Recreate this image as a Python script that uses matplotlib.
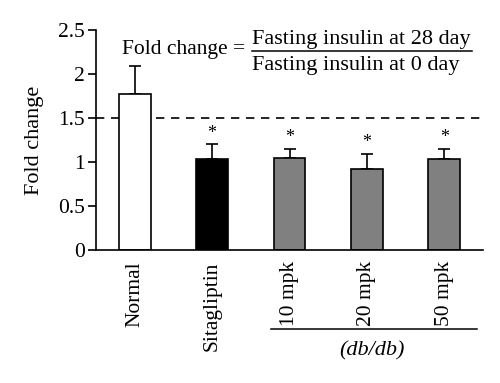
from matplotlib import pyplot as plt
import numpy as np

# values
groups = ['Normal', 'Sitagliptin', '10 mpk', '20 mpk', '50 mpk']
means = [1.77, 1.03, 1.045, 0.92, 1.03]
errors = [0.32, 0.17, 0.105, 0.17, 0.12]
colours = ['white', 'black', '#808080', '#808080', '#808080']
significant = [False, True, True, True, True]

plt.rcParams['font.family'] = ['Liberation Serif', 'DejaVu Serif']

fig = plt.figure(figsize=(5, 3.83), dpi=100)
ax = fig.add_axes([0.192, 0.347, 0.774, 0.575])

x = np.arange(len(groups))
ax.bar(x, means, width=0.41, color=colours, edgecolor='black', linewidth=1.2, zorder=2)
ax.errorbar(x, means, yerr=[np.zeros(len(x)), errors], fmt='none', ecolor='black',
            elinewidth=1.2, capsize=4, capthick=1.2, zorder=1)
for xi, m, e, s in zip(x, means, errors, significant):
	if s:
		ax.text(xi, m + e + 0.03, '*', ha='center', va='bottom', fontsize=13)

ax.axhline(1.5, color='black', linestyle=(0, (5, 4)), linewidth=1.2, zorder=0)

ax.set_xlim(-0.5, 4.5)
ax.set_ylim(0, 2.5)
ax.set_yticks([0, 0.5, 1, 1.5, 2, 2.5])
ax.set_yticklabels(['0', '0.5', '1', '1.5', '2', '2.5'], fontsize=15.5)
ax.set_xticks(x)
ax.set_xticklabels(groups, rotation=90, fontsize=15.5)
ax.tick_params(axis='x', length=0, pad=8)
ax.tick_params(axis='y', length=6, width=1.2, direction='out', pad=2)
ax.set_ylabel('Fold change', fontsize=16, labelpad=10)
for sp in ['top', 'right']:
	ax.spines[sp].set_visible(False)
for sp in ['left', 'bottom']:
	ax.spines[sp].set_linewidth(1.2)

# formula
fig.text(0.244, 0.872, 'Fold change =', fontsize=15.5, va='center', ha='left')
fig.text(0.505, 0.898, 'Fasting insulin at 28 day', fontsize=16, va='center', ha='left')
fig.text(0.505, 0.828, 'Fasting insulin at 0 day', fontsize=16, va='center', ha='left')
fig.add_artist(plt.Line2D([0.503, 0.943], [0.866, 0.866], color='black', linewidth=1.1))

# db/db bracket
fig.add_artist(plt.Line2D([0.542, 0.954], [0.141, 0.141], color='black', linewidth=1.1))
fig.text(0.744, 0.084, '(db/db)', fontsize=16, style='italic', ha='center', va='center')

fig.savefig('out.png', dpi=100)
